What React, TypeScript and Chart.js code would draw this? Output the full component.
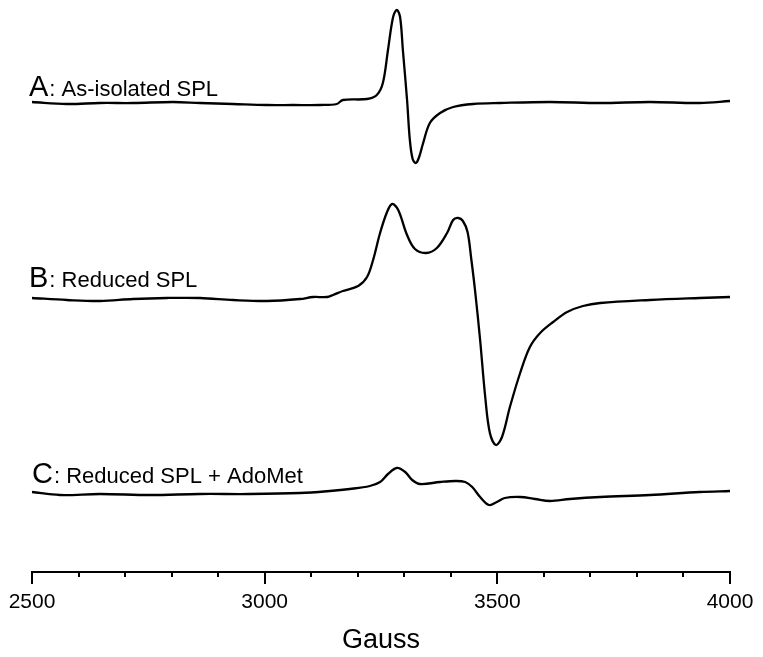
import React, { useEffect, useRef } from "react";
import { Chart, registerables } from "chart.js";

Chart.register(...registerables);

// Magnetic field (Gauss) and first-derivative EPR intensity (arbitrary units) for each trace
const fieldA = [2500, 2575, 2646, 2717, 2803, 2861, 2932, 3005, 3061, 3119, 3155, 3168, 3220, 3241, 3254, 3265, 3276, 3284, 3291, 3297, 3306, 3312, 3318, 3325, 3332, 3340, 3355, 3377, 3405, 3448, 3506, 3613, 3721, 3828, 3935, 4000];
const intensityA = [2, 0, 1, 1, 2, 1, 0, -1, -1, -1, 0, 4, 5, 9, 21, 54, 87, 94, 87, 54, 4, -36, -55, -59, -53, -40, -19, -9, -3, 0, 1, 2, 1, 2, 1, 3];

const fieldB = [2500, 2575, 2646, 2717, 2790, 2861, 2932, 3005, 3076, 3104, 3134, 3147, 3168, 3201, 3220, 3233, 3248, 3263, 3274, 3287, 3306, 3323, 3347, 3370, 3392, 3405, 3416, 3426, 3436, 3444, 3452, 3463, 3474, 3484, 3497, 3510, 3527, 3549, 3570, 3592, 3620, 3650, 3684, 3721, 3828, 3935, 4000];
const intensityB = [1, -1, -2, 0, 1, 1, -1, -2, 0, 2, 2, 4, 8, 13, 22, 39, 66, 87, 95, 89, 64, 50, 46, 51, 66, 79, 81, 78, 67, 40, 9, -41, -98, -134, -146, -138, -108, -74, -48, -34, -23, -13, -7, -4, -1, 1, 2];

const fieldC = [2500, 2560, 2646, 2754, 2861, 2968, 3076, 3140, 3183, 3226, 3248, 3265, 3284, 3302, 3317, 3334, 3377, 3409, 3431, 3446, 3463, 3482, 3499, 3516, 3549, 3581, 3613, 3656, 3721, 3828, 3935, 4000];
const intensityC = [2, -1, 0, -1, 0, 0, 1, 3, 5, 8, 12, 20, 26, 22, 14, 10, 12, 13, 12, 7, -3, -11, -8, -4, -3, -5, -7, -5, -3, -1, 2, 3];

// vertical stacking offsets of the three spectra
const offsets = [468, 273, 78];
const traceLetters = ["A", "B", "C"];
const traceNames = [": As-isolated SPL", ": Reduced SPL", ": Reduced SPL + AdoMet"];

const xTicks = [2500, 3000, 3500, 4000];
const xMin = 2500;
const xMax = 4000;
const minorStep = 100;

const FONT = "'Liberation Sans', Arial, Helvetica, sans-serif";

function toPoints(xs: number[], ys: number[], off: number) {
  return xs.map((x, i) => ({ x, y: ys[i] + off }));
}

const decorPlugin = {
  id: "decor",
  afterDraw(chart: any) {
    const { ctx } = chart;
    const xs = chart.scales.x;
    const ys = chart.scales.y;
    ctx.save();
    ctx.strokeStyle = "#000";
    ctx.fillStyle = "#000";
    ctx.lineWidth = 2;
    const top = xs.top;
    ctx.beginPath();
    ctx.moveTo(xs.getPixelForValue(xMin) - 1, top);
    ctx.lineTo(xs.getPixelForValue(xMax) + 1, top);
    ctx.stroke();
    for (let v = xMin; v <= xMax; v += minorStep) {
      const px = Math.round(xs.getPixelForValue(v));
      const len = v % 500 === 0 ? 12 : 5;
      ctx.beginPath();
      ctx.moveTo(px, top);
      ctx.lineTo(px, top + len);
      ctx.stroke();
    }
    const lifts = [8, 12, 11];
    const shifts = [-3, -3, 0];
    traceLetters.forEach((letter, i) => {
      const bx = xs.getPixelForValue(xMin) + shifts[i];
      const by = ys.getPixelForValue(offsets[i] + lifts[i]);
      ctx.textBaseline = "alphabetic";
      ctx.textAlign = "left";
      ctx.font = `29px ${FONT}`;
      ctx.fillText(letter, bx, by);
      const w = ctx.measureText(letter).width;
      ctx.font = `22px ${FONT}`;
      ctx.fillText(traceNames[i], bx + w + 1, by);
    });
    ctx.restore();
  },
};

export default function App() {
  const ref = useRef<HTMLCanvasElement | null>(null);
  useEffect(() => {
    if (!ref.current) return;
    const ds = (xs: number[], ys: number[], off: number) => ({
      data: toPoints(xs, ys, off),
      borderColor: "#000",
      borderWidth: 2.3,
      pointRadius: 0,
      fill: false,
      tension: 0.35,
      clip: false as any,
    });
    const chart = new Chart(ref.current, {
      type: "line",
      data: {
        datasets: [
          ds(fieldA, intensityA, offsets[0]),
          ds(fieldB, intensityB, offsets[1]),
          ds(fieldC, intensityC, offsets[2]),
        ],
      },
      options: {
        animation: false,
        responsive: true,
        maintainAspectRatio: false,
        layout: { padding: { left: 32, right: 33, top: 0, bottom: 0 } },
        plugins: { legend: { display: false }, tooltip: { enabled: false } },
        scales: {
          x: {
            type: "linear",
            min: xMin,
            max: xMax,
            grid: { display: false, drawTicks: false },
            border: { display: false },
            afterBuildTicks: (scale: any) => {
              scale.ticks = xTicks.map((v) => ({ value: v }));
            },
            afterFit: (scale: any) => {
              scale.height = 85;
              scale.paddingLeft = 0;
              scale.paddingRight = 0;
            },
            ticks: {
              autoSkip: false,
              maxRotation: 0,
              padding: 18,
              color: "#000",
              font: { size: 21, family: FONT },
              callback: (v: any) => String(v),
            },
            title: {
              display: true,
              text: "Gauss",
              color: "#000",
              font: { size: 27, family: FONT },
              padding: 0,
            },
          },
          y: { display: false, min: 0, max: 572 },
        },
      },
      plugins: [decorPlugin],
    });
    return () => chart.destroy();
  }, []);
  return (
    <div style={{ position: "fixed", left: 0, top: 0, width: 763, height: 657, background: "#fff" }}>
      <canvas ref={ref} />
    </div>
  );
}
